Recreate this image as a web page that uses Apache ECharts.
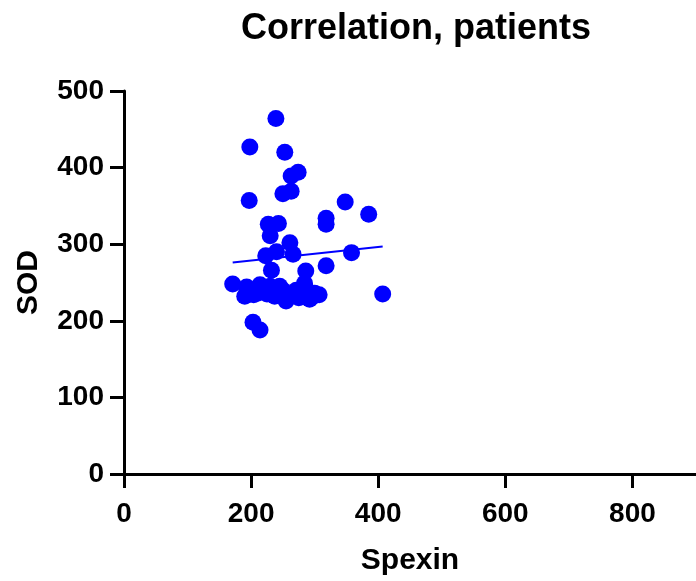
<!DOCTYPE html>
<html>
<head>
<meta charset="utf-8">
<title>Correlation, patients</title>
<script src="https://cdn.jsdelivr.net/npm/echarts@6/dist/echarts.min.js"></script>
<style>
  html, body { margin: 0; padding: 0; background: #ffffff; }
  #chart { width: 696px; height: 581px; }
</style>
</head>
<body>
<div id="chart"></div>
<script>
// values
const spexin = [
  239, 198, 253, 274, 263, 263, 250, 197, 348, 385,
  318, 318, 227, 243, 230, 261, 266, 240, 223, 358,
  318, 286, 232, 171, 193, 190, 204, 214, 203, 214,
  220, 230, 245, 255, 271, 292, 307, 284, 407, 263,
  280, 237, 300, 250, 275, 225, 287, 210, 296
]
const sod = [
  464, 427, 420, 394, 389, 369, 366, 357, 355, 339,
  334, 326, 326, 327, 311, 302, 287, 290, 285, 289,
  272, 265, 266, 248, 244, 232, 234, 247, 198, 188,
  240, 245, 245, 226, 240, 228, 234, 249, 235, 235,
  232, 232, 236, 240, 230, 235, 241, 236, 231
]

// linear fit, start and end as drawn
const fitSpexin = [171, 407]
const fitSod = [276, 297]

const FONT = '"Liberation Sans", Arial, sans-serif'
const BLUE = '#0000ff'

const chart = echarts.init(document.getElementById('chart'), null, { renderer: 'canvas' })

const points = spexin.map((x, i) => [x, sod[i]])
const fit = fitSpexin.map((x, i) => [x, fitSod[i]])

const axisCommon = {
  axisLine: { show: true, onZero: false, lineStyle: { color: '#000', width: 3 } },
  axisTick: { show: true, inside: false, length: 14, lineStyle: { color: '#000', width: 3 } },
  splitLine: { show: false },
  nameTextStyle: { color: '#000', fontFamily: FONT, fontWeight: 'bold', fontSize: 30 }
}

chart.setOption({
  animation: false,
  backgroundColor: '#ffffff',
  title: {
    text: 'Correlation, patients',
    left: 411,
    top: 6,
    textAlign: 'center',
    textStyle: { color: '#000', fontFamily: FONT, fontWeight: 'bold', fontSize: 36 }
  },
  grid: { left: 124, right: -6, top: 91, bottom: 106, containLabel: false },
  xAxis: {
    ...axisCommon,
    type: 'value',
    min: 0,
    max: 900,
    interval: 200,
    name: 'Spexin',
    nameLocation: 'middle',
    nameGap: 72,
    axisLabel: {
      color: '#000', fontFamily: FONT, fontWeight: 'bold', fontSize: 28, margin: 26,
      showMaxLabel: false
    }
  },
  yAxis: {
    ...axisCommon,
    type: 'value',
    min: 0,
    max: 500,
    interval: 100,
    name: 'SOD',
    nameLocation: 'middle',
    nameGap: 80,
    axisLabel: { color: '#000', fontFamily: FONT, fontWeight: 'bold', fontSize: 28, margin: 20 }
  },
  series: [
    {
      type: 'scatter',
      data: points,
      symbol: 'circle',
      symbolSize: 17,
      itemStyle: { color: BLUE, opacity: 1 },
      z: 3
    },
    {
      type: 'line',
      data: fit,
      symbol: 'none',
      lineStyle: { color: BLUE, width: 2 },
      z: 2
    }
  ]
})
</script>
</body>
</html>
